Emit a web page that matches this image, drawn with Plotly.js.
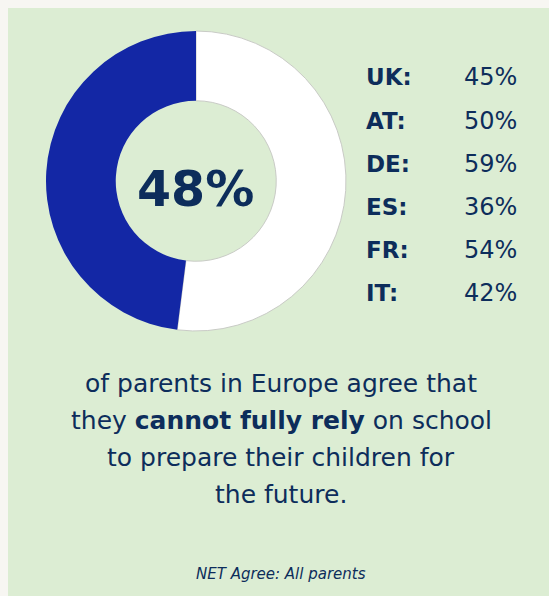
<!DOCTYPE html>
<html>
<head>
<meta charset="utf-8">
<script src="https://cdn.plot.ly/plotly-3.0.1.min.js"></script>
<style>html,body{margin:0;padding:0;background:#f7f6f2;}#chart{width:549px;height:596px;}</style>
</head>
<body>
<div id="chart"></div>
<script>
const overall = 48;
const sliceLabels = ['Other', 'Agree'];
const sliceValues = [100 - overall, overall];
const sliceColors = ['#ffffff', '#1327a5'];
const countries = ['UK:', 'AT:', 'DE:', 'ES:', 'FR:', 'IT:'];
const countryValues = [45, 50, 59, 36, 54, 42];
const captionLines = [
  'of parents in Europe agree that',
  'they <b>cannot fully rely</b> on school',
  'to prepare their children for',
  'the future.'
];
const footnote = 'NET Agree: All parents';

const W = 549, H = 596;
const navy = '#0d2d5b';
const font = 'DejaVu Sans, sans-serif';
const px = x => x / W;
const py = y => 1 - y / H;

const annotations = [];
annotations.push({
  x: px(195), y: py(189), xref: 'paper', yref: 'paper', showarrow: false,
  text: '<b>' + overall + '%</b>', font: {family: font, size: 49, color: navy},
  xanchor: 'center', yanchor: 'middle'
});
const rowY = [77, 121, 164, 207, 250, 293];
countries.forEach((c, i) => {
  annotations.push({
    x: px(364), y: py(rowY[i]), xref: 'paper', yref: 'paper', showarrow: false,
    text: '<b>' + c + '</b>', font: {family: font, size: 23, color: navy},
    xanchor: 'left', yanchor: 'middle'
  });
  annotations.push({
    x: px(519), y: py(rowY[i]), xref: 'paper', yref: 'paper', showarrow: false,
    text: countryValues[i] + '%', font: {family: font, size: 24, color: navy},
    xanchor: 'right', yanchor: 'middle'
  });
});
const lineY = [383, 420, 457, 494];
captionLines.forEach((t, i) => {
  annotations.push({
    x: px(281), y: py(lineY[i]), xref: 'paper', yref: 'paper', showarrow: false,
    text: t, font: {family: font, size: 25, color: navy},
    xanchor: 'center', yanchor: 'middle'
  });
});
annotations.push({
  x: px(281), y: py(574), xref: 'paper', yref: 'paper', showarrow: false,
  text: '<i>' + footnote + '</i>', font: {family: font, size: 15, color: navy},
  xanchor: 'center', yanchor: 'middle'
});

const data = [{
  type: 'pie',
  labels: sliceLabels,
  values: sliceValues,
  hole: 0.535,
  sort: false,
  direction: 'clockwise',
  rotation: 0,
  textinfo: 'none',
  hoverinfo: 'none',
  showlegend: false,
  marker: {colors: sliceColors, line: {color: ['#c9cbc6', '#1327a5'], width: [1, 0]}},
  domain: {x: [px(46), px(346)], y: [py(331), py(31)]}
}];

const layout = {
  width: W, height: H,
  margin: {l: 0, r: 0, t: 0, b: 0},
  paper_bgcolor: '#f7f6f2',
  plot_bgcolor: 'rgba(0,0,0,0)',
  shapes: [{
    type: 'rect', xref: 'paper', yref: 'paper',
    x0: px(8), x1: 1, y0: 0, y1: py(8),
    fillcolor: '#dcedd3', line: {width: 0}, layer: 'below'
  }],
  annotations: annotations
};

Plotly.newPlot('chart', data, layout, {displayModeBar: false, staticPlot: true});
</script>
</body>
</html>
